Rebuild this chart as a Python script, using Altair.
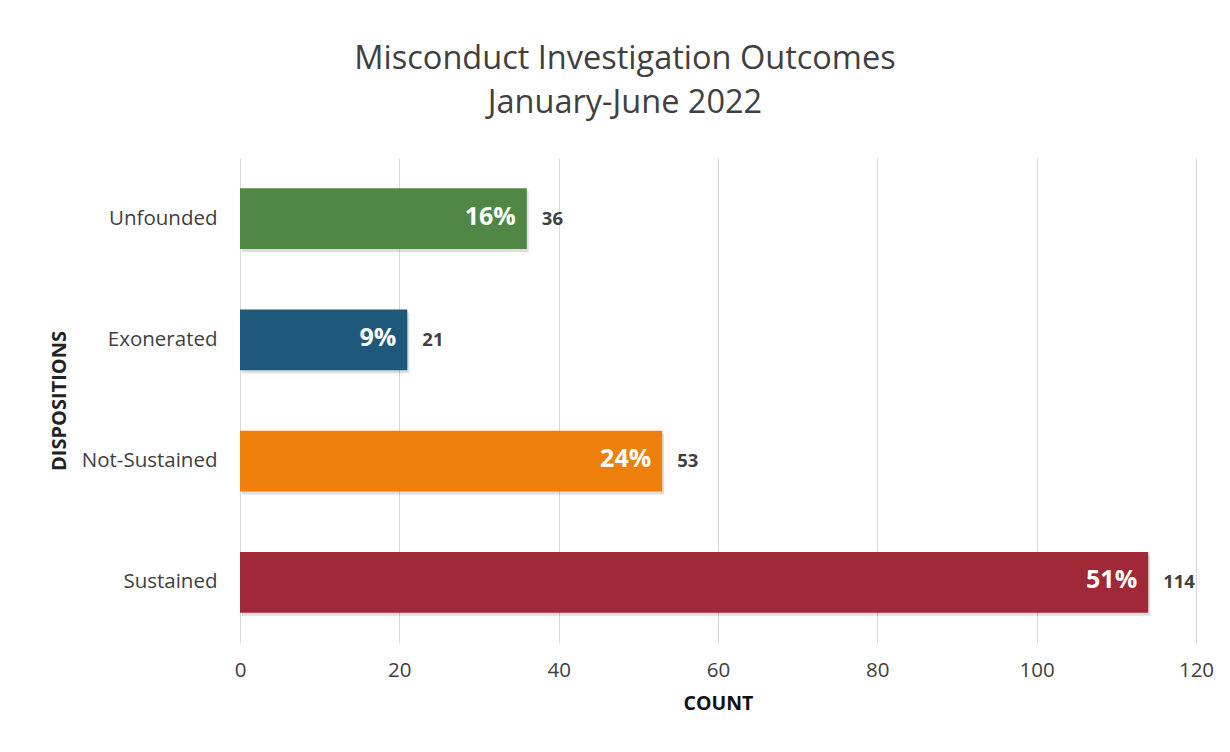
import altair as alt
import pandas as pd

categories = ["Unfounded", "Exonerated", "Not-Sustained", "Sustained"]
counts = [36, 21, 53, 114]
percent_labels = ["16%", "9%", "24%", "51%"]
colors = ["#508744", "#1E587A", "#EF7F0B", "#A02837"]
x_ticks = [0, 20, 40, 60, 80, 100, 120]

df = pd.DataFrame({"cat": categories, "count": counts, "pct": percent_labels})

FONT = "Open Sans"
TXT = "#404040"

y_enc = alt.Y(
    "cat:N",
    sort=categories,
    scale=alt.Scale(paddingInner=0.5, paddingOuter=0.25),
    axis=alt.Axis(
        title="DISPOSITIONS",
        titleFont=FONT, titleFontSize=20, titleFontWeight="bold", titleColor="#222222",
        titlePadding=12,
        labelFont=FONT, labelFontSize=20.5, labelColor=TXT, labelPadding=23,
        ticks=False, domain=False, grid=False,
    ),
)
x_enc = alt.X(
    "count:Q",
    scale=alt.Scale(domain=[0, 120], nice=False),
    axis=alt.Axis(
        values=x_ticks,
        title="COUNT",
        titleFont=FONT, titleFontSize=19.5, titleFontWeight="bold", titleColor="#111111",
        titlePadding=14,
        labelFont=FONT, labelFontSize=20.5, labelColor=TXT, labelPadding=17,
        labelFlush=False,
        ticks=False, domain=False, grid=True, gridColor="#d9d9d9", gridWidth=1,
    ),
)

base = alt.Chart(df)

shadow = base.mark_bar(color="#000000", opacity=0.13, xOffset=2, yOffset=3).encode(x=x_enc, y=y_enc)

bars = base.mark_bar().encode(
    x=x_enc,
    y=y_enc,
    color=alt.Color("cat:N", scale=alt.Scale(domain=categories, range=colors), legend=None),
)

pct = base.mark_text(
    align="right", baseline="middle", dx=-11, dy=-2, font=FONT, fontSize=25,
    fontWeight="bold", color="white",
).encode(x="count:Q", y=alt.Y("cat:N", sort=categories), text="pct:N")

cnt = base.mark_text(
    align="left", baseline="middle", dx=15, font=FONT, fontSize=18.5,
    fontWeight="bold", color=TXT,
).encode(x="count:Q", y=alt.Y("cat:N", sort=categories), text="count:Q")

chart = (
    alt.layer(shadow, bars, pct, cnt)
    .properties(
        width=956,
        height=485,
        autosize=alt.AutoSizeParams(type="none"),
        padding={"left": 232, "top": 150, "right": 26, "bottom": 100},
        title=alt.TitleParams(
            text=["Misconduct Investigation Outcomes", "January-June 2022"],
            font=FONT, fontSize=32.5, fontWeight="normal", color=TXT,
            anchor="middle", dx=-93, offset=39, lineHeight=44,
        ),
        background="white",
    )
    .configure_view(stroke=None)
)

chart.save("out.html", embed_options={"renderer": "svg", "actions": False})
